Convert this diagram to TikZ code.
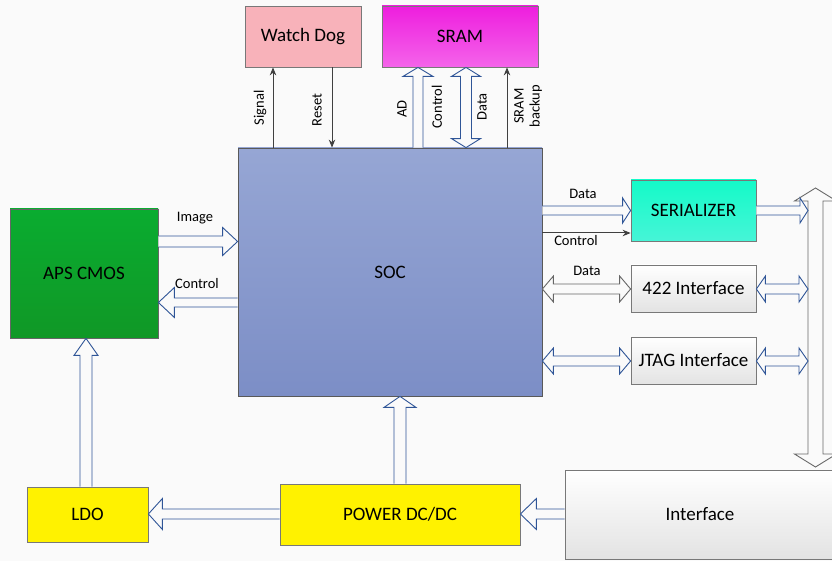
\documentclass[tikz,border=0pt]{standalone}
\usepackage{fontspec}
\setmainfont{Carlito}
\usetikzlibrary{arrows.meta,calc}

\definecolor{paper}{RGB}{250,250,250}
\definecolor{boxline}{RGB}{120,120,120}
\definecolor{arrowblue}{RGB}{47,85,151}
\definecolor{sigline}{RGB}{64,64,64}
\definecolor{busgray}{RGB}{105,105,105}

% block arrow sizes (half shaft width, half head width, head length)
\tikzset{shaft w/.store in=\shaftw, head w/.store in=\headw, head l/.store in=\headl,
	shaft w=5, head w=14, head l=12}

% horizontal block arrow from #2 to #3 at height #4
\newcommand\harrow[4][]{%
	\draw[barrow,#1] let \p1=(#2), \p2=(#3), \p3=(0,#4), \n1={sign(\x2-\x1)} in
	(\x1,{\y3+\shaftw pt}) -- ({\x2-(\n1)*\headl pt},{\y3+\shaftw pt}) -- ({\x2-(\n1)*\headl pt},{\y3+\headw pt})
	-- (\x2,\y3) -- ({\x2-(\n1)*\headl pt},{\y3-\headw pt}) -- ({\x2-(\n1)*\headl pt},{\y3-\shaftw pt}) -- (\x1,{\y3-\shaftw pt});}
% horizontal double block arrow
\newcommand\hdarrow[4][]{%
	\draw[barrow,#1] let \p1=(#2), \p2=(#3), \p3=(0,#4), \n1={sign(\x2-\x1)} in
	(\x1,\y3) -- ({\x1+(\n1)*\headl pt},{\y3+\headw pt}) -- ({\x1+(\n1)*\headl pt},{\y3+\shaftw pt})
	-- ({\x2-(\n1)*\headl pt},{\y3+\shaftw pt}) -- ({\x2-(\n1)*\headl pt},{\y3+\headw pt}) -- (\x2,\y3)
	-- ({\x2-(\n1)*\headl pt},{\y3-\headw pt}) -- ({\x2-(\n1)*\headl pt},{\y3-\shaftw pt})
	-- ({\x1+(\n1)*\headl pt},{\y3-\shaftw pt}) -- ({\x1+(\n1)*\headl pt},{\y3-\headw pt}) -- cycle;}
% vertical block arrow at abscissa #4
\newcommand\varrow[4][]{%
	\draw[barrow,#1] let \p1=(#2), \p2=(#3), \p3=(#4,0), \n1={sign(\y2-\y1)} in
	({\x3-\shaftw pt},\y1) -- ({\x3-\shaftw pt},{\y2-(\n1)*\headl pt}) -- ({\x3-\headw pt},{\y2-(\n1)*\headl pt})
	-- (\x3,\y2) -- ({\x3+\headw pt},{\y2-(\n1)*\headl pt}) -- ({\x3+\shaftw pt},{\y2-(\n1)*\headl pt}) -- ({\x3+\shaftw pt},\y1);}
% vertical double block arrow
\newcommand\vdarrow[4][]{%
	\draw[barrow,#1] let \p1=(#2), \p2=(#3), \p3=(#4,0), \n1={sign(\y2-\y1)} in
	(\x3,\y1) -- ({\x3-\headw pt},{\y1+(\n1)*\headl pt}) -- ({\x3-\shaftw pt},{\y1+(\n1)*\headl pt})
	-- ({\x3-\shaftw pt},{\y2-(\n1)*\headl pt}) -- ({\x3-\headw pt},{\y2-(\n1)*\headl pt}) -- (\x3,\y2)
	-- ({\x3+\headw pt},{\y2-(\n1)*\headl pt}) -- ({\x3+\shaftw pt},{\y2-(\n1)*\headl pt})
	-- ({\x3+\shaftw pt},{\y1+(\n1)*\headl pt}) -- ({\x3+\headw pt},{\y1+(\n1)*\headl pt}) -- cycle;}

\begin{document}
\begin{tikzpicture}[x=1pt,y=-1pt, line join=miter,
	every node/.style={font=\fontsize{19}{22}\selectfont},
	blk/.style={draw=boxline, line width=0.8pt, inner sep=0pt},
	greybox/.style={blk, top color=white, bottom color=black!11},
	lbl/.style={font=\fontsize{14.5}{16}\selectfont, inner sep=0pt},
	barrow/.style={draw=arrowblue, fill=paper, line width=0.9pt},
	sig/.style={draw=sigline, line width=1pt, -{Stealth[length=8pt,width=6.5pt]}}]
	\fill[paper] (0,0) rectangle (832,561);
	\useasboundingbox (0,0) rectangle (832,561);

	% blocks
	\node[blk, fill={rgb,255:red,248;green,178;blue,186}, minimum width=116, minimum height=61] (wd) at (303,36.5) {Watch Dog};
	\node[blk, top color={rgb,255:red,238;green,30;blue,222}, bottom color={rgb,255:red,244;green,100;blue,234}, minimum width=156, minimum height=61] (sram) at (460,36.5) {SRAM};
	\node[blk, draw=black!65, top color={rgb,255:red,150;green,166;blue,212}, bottom color={rgb,255:red,124;green,142;blue,198}, minimum width=304, minimum height=248] (soc) at (390,272) {SOC};
	\node[blk, draw=black!60, top color={rgb,255:red,10;green,172;blue,48}, bottom color={rgb,255:red,16;green,152;blue,38}, minimum width=148, minimum height=129] (aps) at (84,273.5) {APS CMOS};
	\node[blk, top color={rgb,255:red,20;green,250;blue,200}, bottom color={rgb,255:red,70;green,245;blue,215}, minimum width=125, minimum height=61] (ser) at (693.5,210.5) {SERIALIZER};
	\node[greybox, minimum width=125, minimum height=47] (rs) at (693.5,288.5) {422 Interface};
	\node[greybox, minimum width=125, minimum height=47] (jtag) at (693.5,360.5) {JTAG Interface};
	\node[blk, fill=yellow, minimum width=121, minimum height=55] (ldo) at (87.5,514.5) {LDO};
	\node[blk, fill=yellow, minimum width=240, minimum height=61] (pwr) at (400,514.5) {POWER DC/DC};
	\node[greybox, minimum width=270, minimum height=89] (intf) at (700,514.5) {Interface};

	% bus on the right
	\coordinate (bustop) at (815.5,188);
	\coordinate (busbot) at (815.5,467);
	\coordinate (busl) at (808,300);
	\vdarrow[draw=busgray, shaft w=7.5, head w=21, head l=13]{busbot}{bustop}{815.5}

	% watch dog and sram links
	\draw[sig] (soc.north -| 273,0) -- (wd.south -| 273,0);
	\draw[sig] (wd.south -| 332,0) -- (soc.north -| 332,0);
	\varrow[head l=9, head w=15]{soc.north}{sram.south}{418}
	\vdarrow[head l=9, shaft w=5.5, head w=14.5]{soc.north}{sram.south}{466}
	\draw[sig] (soc.north -| 507,0) -- (sram.south -| 507,0);
	\node[lbl, rotate=90] (lsig) at (260,108) {Signal};
	\node[lbl, rotate=90] (lrst) at (317,110) {Reset};
	\node[lbl, rotate=90] (lad) at (402,109) {AD};
	\node[lbl, rotate=90] (lctl) at (437,107) {Control};
	\node[lbl, rotate=90] (ldat) at (482,107) {Data};
	\node[lbl, rotate=90, align=center] (lbak) at (528,106) {SRAM\\backup};

	% sensor
	\harrow[shaft w=5.5, head l=15]{aps.east}{soc.west}{241.5}
	\harrow[shaft w=4.5, head w=15, head l=16]{soc.west}{aps.east}{302.5}
	\node[lbl] (limg) at (195,218) {Image};
	\node[lbl] (lcam) at (197,284) {Control};

	% serializer and interfaces
	\harrow[shaft w=4.5, head w=12.5, head l=8]{soc.east}{ser.west}{210.5}
	\draw[sig] (soc.east |- 0,233) -- (ser.west |- 0,233);
	\hdarrow[draw=black!60, head w=13, head l=11]{soc.east}{rs.west}{289}
	\hdarrow[head w=13, head l=11]{soc.east}{jtag.west}{361}
	\node[lbl] (lsd) at (583,194) {Data};
	\node[lbl] (lsc) at (576,241) {Control};
	\node[lbl] (lrd) at (587,271) {Data};
	\harrow[shaft w=4.5, head w=12.5, head l=8]{ser.east}{busl}{210.5}
	\hdarrow[head w=13, head l=9]{rs.east}{busl}{289}
	\hdarrow[head w=13, head l=9]{jtag.east}{busl}{361}

	% power
	\varrow[shaft w=6, head w=16, head l=11]{pwr.north}{soc.south}{400}
	\varrow[shaft w=6, head w=12, head l=17]{ldo.north}{aps.south}{86}
	\harrow[head w=15.5, head l=14]{pwr.west}{ldo.east}{514}
	\harrow[head w=15.5, head l=16]{intf.west}{pwr.east}{514}
\end{tikzpicture}
\end{document}
